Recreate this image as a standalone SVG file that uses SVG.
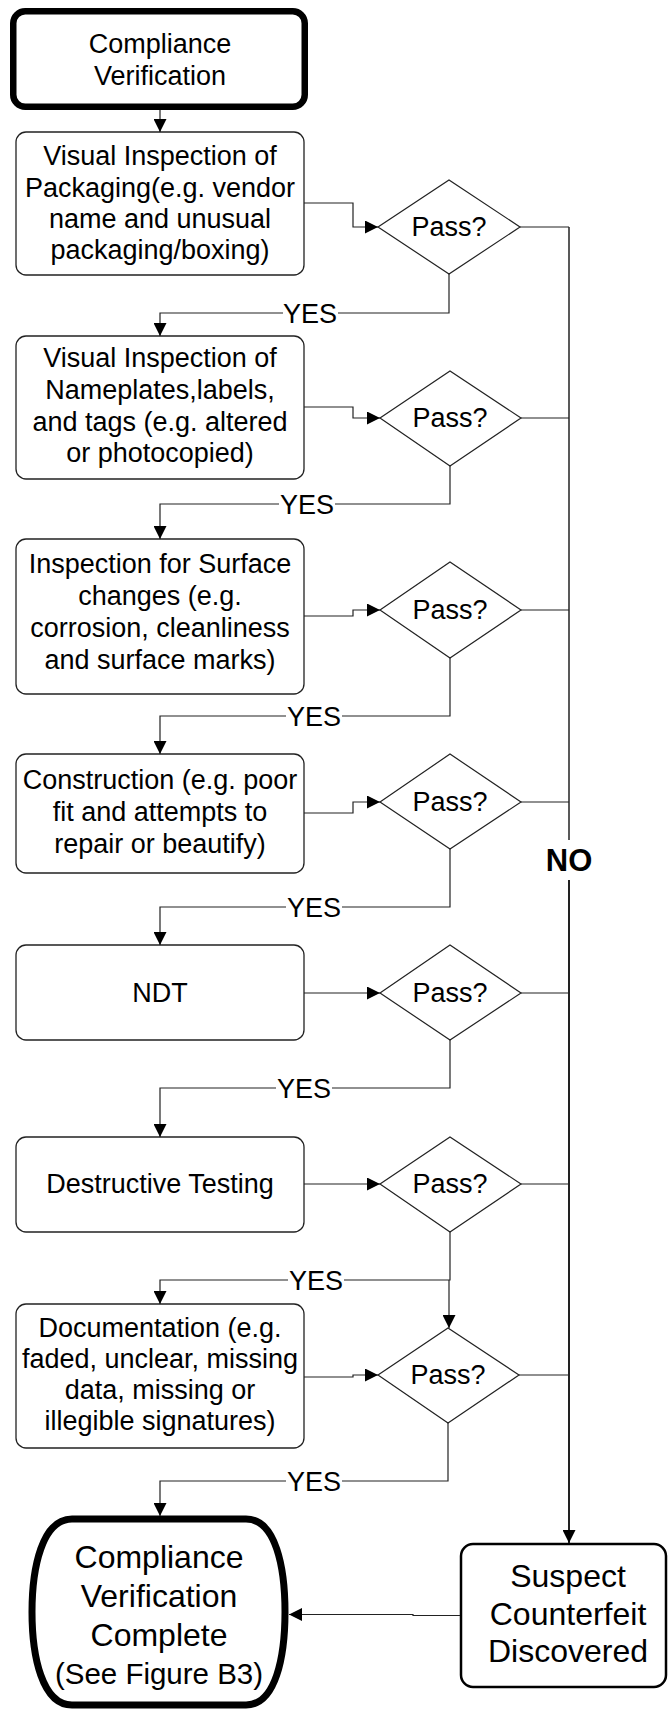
<svg xmlns="http://www.w3.org/2000/svg" width="670" height="1712" viewBox="0 0 670 1712">
<style>
.box{fill:#fff;stroke:#222;stroke-width:1.3}
.dia{fill:#fff;stroke:#222;stroke-width:1.2}
.t{font-family:"Liberation Sans",Arial,sans-serif;font-size:27px;fill:#000;text-anchor:middle}
.tb{font-family:"Liberation Sans",Arial,sans-serif;font-size:32px;fill:#000;text-anchor:middle}
.no{font-family:"Liberation Sans",Arial,sans-serif;font-size:31px;font-weight:bold;fill:#000;text-anchor:middle}
.c{fill:none;stroke:#222;stroke-width:1.2}
.ca{fill:none;stroke:#222;stroke-width:1.2;marker-end:url(#ah)}
</style>
<defs>
<marker id="ah" markerUnits="userSpaceOnUse" markerWidth="13" markerHeight="13" refX="13" refY="6.5" orient="auto" viewBox="0 0 13 13">
<path d="M0,0 L13,6.5 L0,13 Z" fill="#000"/>
</marker>
</defs>

<g id="start">
<rect x="13.25" y="11.25" width="291.5" height="95.5" rx="12" fill="#fff" stroke="#000" stroke-width="6.5"/>
<text class="t" x="160" y="53">Compliance</text>
<text class="t" x="160" y="85">Verification</text>
</g>

<g id="box1">
<rect class="box" x="16" y="132" width="288" height="143" rx="10"/>
<text class="t" x="160" y="165">Visual Inspection of</text>
<text class="t" x="160" y="197">Packaging(e.g. vendor</text>
<text class="t" x="160" y="228">name and unusual</text>
<text class="t" x="160" y="259">packaging/boxing)</text>
</g>
<g id="d1"><path class="dia" d="M378,227 L449,180 L520,227 L449,274 Z"/><text class="t" x="449" y="236">Pass?</text></g>

<g id="box2">
<rect class="box" x="16" y="336" width="288" height="143" rx="10"/>
<text class="t" x="160" y="367">Visual Inspection of</text>
<text class="t" x="160" y="399">Nameplates,labels,</text>
<text class="t" x="160" y="431">and tags (e.g. altered</text>
<text class="t" x="160" y="462">or photocopied)</text>
</g>
<g id="d2"><path class="dia" d="M380,418 L450,371 L521,418 L450,466 Z"/><text class="t" x="450" y="427">Pass?</text></g>

<g id="box3">
<rect class="box" x="16" y="539" width="288" height="155" rx="10"/>
<text class="t" x="160" y="573">Inspection for Surface</text>
<text class="t" x="160" y="605">changes (e.g.</text>
<text class="t" x="160" y="637">corrosion, cleanliness</text>
<text class="t" x="160" y="669">and surface marks)</text>
</g>
<g id="d3"><path class="dia" d="M380,610 L450,562 L521,610 L450,658 Z"/><text class="t" x="450" y="619">Pass?</text></g>

<g id="box4">
<rect class="box" x="16" y="754" width="288" height="119" rx="10"/>
<text class="t" x="160" y="789">Construction (e.g. poor</text>
<text class="t" x="160" y="821">fit and attempts to</text>
<text class="t" x="160" y="853">repair or beautify)</text>
</g>
<g id="d4"><path class="dia" d="M380,802 L450,754 L521,802 L450,849 Z"/><text class="t" x="450" y="811">Pass?</text></g>

<g id="box5">
<rect class="box" x="16" y="945" width="288" height="95" rx="10"/>
<text class="t" x="160" y="1002">NDT</text>
</g>
<g id="d5"><path class="dia" d="M380,993 L450,945 L521,993 L450,1040 Z"/><text class="t" x="450" y="1002">Pass?</text></g>

<g id="box6">
<rect class="box" x="16" y="1137" width="288" height="95" rx="10"/>
<text class="t" x="160" y="1193">Destructive Testing</text>
</g>
<g id="d6"><path class="dia" d="M380,1184 L450,1137 L521,1184 L450,1232 Z"/><text class="t" x="450" y="1193">Pass?</text></g>

<g id="box7">
<rect class="box" x="16" y="1304" width="288" height="144" rx="10"/>
<text class="t" x="160" y="1337">Documentation (e.g.</text>
<text class="t" x="160" y="1368">faded, unclear, missing</text>
<text class="t" x="160" y="1399">data, missing or</text>
<text class="t" x="160" y="1430">illegible signatures)</text>
</g>
<g id="d7"><path class="dia" d="M378,1375 L448,1328 L519,1375 L448,1423 Z"/><text class="t" x="448" y="1384">Pass?</text></g>

<g id="complete">
<path d="M72,1519 L246,1519 C276,1519 285,1568 285,1612 C285,1656 276,1705 246,1705 L72,1705 C42,1705 32,1656 32,1612 C32,1568 42,1519 72,1519 Z" fill="#fff" stroke="#000" stroke-width="7"/>
<text class="tb" x="159" y="1568">Compliance</text>
<text class="tb" x="159" y="1607">Verification</text>
<text class="tb" x="159" y="1646">Complete</text>
<text class="t" x="159" y="1684" style="font-size:29.5px">(See Figure B3)</text>
</g>

<g id="suspect">
<rect x="461" y="1544" width="205" height="143" rx="12" fill="#fff" stroke="#000" stroke-width="2.5"/>
<text class="tb" x="568" y="1587">Suspect</text>
<text class="tb" x="568" y="1625">Counterfeit</text>
<text class="tb" x="568" y="1662">Discovered</text>
</g>

<g id="connectors">
<path class="ca" d="M160,110 V132"/>
<path class="ca" d="M304,203 H353 V227 H378"/>
<path class="ca" d="M304,407 H353 V418 H380"/>
<path class="ca" d="M304,616 H353 V610 H380"/>
<path class="ca" d="M304,813 H353 V802 H380"/>
<path class="ca" d="M304,993 H380"/>
<path class="ca" d="M304,1184 H380"/>
<path class="ca" d="M304,1377 H353 V1375 H378"/>

<path class="c" d="M520,227 H569 M521,418 H569 M521,610 H569 M521,802 H569 M521,993 H569 M521,1184 H569 M519,1375 H569"/>
<path class="c" d="M569,227 V840" style="stroke-width:1.5"/>
<path class="ca" d="M569,880 V1543" style="stroke-width:2"/>
<text class="no" x="569" y="871">NO</text>

<path class="c" d="M449,274 V313 H338"/>
<path class="ca" d="M283,313 H160 V336"/>
<text class="t" x="310" y="323">YES</text>

<path class="c" d="M450,466 V504 H335"/>
<path class="ca" d="M279,504 H160 V539"/>
<text class="t" x="307" y="514">YES</text>

<path class="c" d="M450,658 V716 H342"/>
<path class="ca" d="M286,716 H160 V754"/>
<text class="t" x="314" y="726">YES</text>

<path class="c" d="M450,849 V907 H342"/>
<path class="ca" d="M286,907 H160 V945"/>
<text class="t" x="314" y="917">YES</text>

<path class="c" d="M450,1040 V1088 H332"/>
<path class="ca" d="M276,1088 H160 V1137"/>
<text class="t" x="304" y="1098">YES</text>

<path class="c" d="M450,1232 V1280 H344"/>
<path class="ca" d="M288,1280 H160 V1304"/>
<text class="t" x="316" y="1290">YES</text>
<path class="ca" d="M449,1280 V1328"/>

<path class="c" d="M448,1423 V1481 H342"/>
<path class="ca" d="M286,1481 H160 V1516"/>
<text class="t" x="314" y="1491">YES</text>

<path class="ca" d="M460,1615.5 H413 V1614.5 H289"/>
</g>
</svg>
